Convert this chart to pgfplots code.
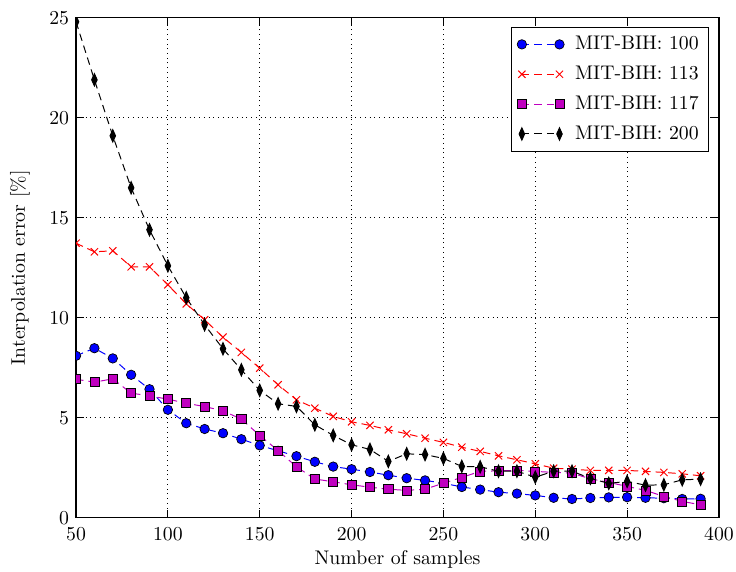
\documentclass[border=0pt]{standalone}
\usepackage{pgfplots}
\pgfplotsset{compat=1.18}
\definecolor{mplmag}{rgb}{0.75,0,0.75}
\begin{document}
\begin{tikzpicture}
\begin{axis}[
  name=ax,
  scale only axis,
  width=324.7bp, height=252.5bp,
  xmin=50, xmax=400, ymin=0, ymax=25,
  xtick={50,100,...,400}, ytick={0,5,...,25},
  xlabel={Number of samples},
  ylabel={Interpolation error [\%]},
  grid=major,
  clip marker paths=true,
  major grid style={dotted, black, line width=0.45pt},
  axis line style={line width=0.55pt},
  major tick length=4bp,
  tick style={black, line width=0.55pt},
  xticklabel style={inner xsep=1bp, yshift=-1.5bp},
  xlabel style={at={(axis description cs:0.5,0)}, anchor=base, yshift=-23.7bp, inner sep=1bp},
  ylabel style={at={(axis description cs:0,0.5)}, anchor=center, yshift=28.3bp},
  legend style={at={(1,1)}, xshift=-5bp, yshift=-4.5bp, anchor=north east, draw=black, line width=0.55pt,
    inner xsep=3bp, inner ysep=2.5bp, row sep=2.8bp, font=\normalsize,
    /tikz/every odd column/.append style={column sep=3.5bp}},
  legend cell align=left,
  legend image code/.code={\draw[#1] plot coordinates {(0bp,0bp) (19bp,0bp)};},
  every axis plot/.append style={line width=0.5pt, dash pattern=on 3.8bp off 2.5bp},
]
\addplot[blue, mark=*, mark size=2.4pt, mark options={solid, fill=blue, draw=black, line width=0.35pt}] coordinates {
(50,8.1) (60,8.48) (70,7.97) (80,7.15) (90,6.43) (100,5.4) (110,4.73) (120,4.44) (130,4.23) (140,3.93)
(150,3.62) (160,3.35) (170,3.08) (180,2.8) (190,2.56) (200,2.43) (210,2.29) (220,2.13) (230,1.98) (240,1.87)
(250,1.73) (260,1.54) (270,1.41) (280,1.28) (290,1.21) (300,1.12) (310,1.0) (320,0.94) (330,0.99) (340,1.02)
(350,1.03) (360,1.0) (370,0.98) (380,0.94) (390,0.95)};
\addlegendentry{MIT-BIH: 100}
\addplot[red, mark=x, mark size=2.6pt, mark options={solid, line width=0.5pt}] coordinates {
(50,13.73) (60,13.3) (70,13.35) (80,12.55) (90,12.55) (100,11.65) (110,10.7) (120,9.9) (130,9.03) (140,8.27)
(150,7.48) (160,6.65) (170,5.9) (180,5.48) (190,5.07) (200,4.8) (210,4.62) (220,4.4) (230,4.2) (240,3.98)
(250,3.77) (260,3.53) (270,3.32) (280,3.1) (290,2.9) (300,2.7) (310,2.48) (320,2.43) (330,2.37) (340,2.37)
(350,2.37) (360,2.32) (370,2.27) (380,2.2) (390,2.1)};
\addlegendentry{MIT-BIH: 113}
\addplot[mplmag, mark=square*, mark size=2.3pt, mark options={solid, fill=mplmag, draw=black, line width=0.35pt}] coordinates {
(50,6.93) (60,6.78) (70,6.95) (80,6.23) (90,6.1) (100,5.93) (110,5.73) (120,5.56) (130,5.35) (140,4.93)
(150,4.12) (160,3.36) (170,2.55) (180,1.94) (190,1.8) (200,1.65) (210,1.53) (220,1.43) (230,1.37) (240,1.43)
(250,1.73) (260,2.02) (270,2.32) (280,2.35) (290,2.37) (300,2.32) (310,2.27) (320,2.23) (330,1.95) (340,1.77)
(350,1.57) (360,1.37) (370,1.07) (380,0.82) (390,0.65)};
\addlegendentry{MIT-BIH: 117}
\addplot[black, mark=diamond*, mark size=3.1pt, mark options={solid, fill=black, xscale=0.6}] coordinates {
(50,24.8) (60,21.9) (70,19.1) (80,16.5) (90,14.4) (100,12.6) (110,11.0) (120,9.65) (130,8.45) (140,7.4)
(150,6.37) (160,5.7) (170,5.57) (180,4.65) (190,4.12) (200,3.65) (210,3.42) (220,2.82) (230,3.2) (240,3.16)
(250,2.97) (260,2.57) (270,2.55) (280,2.33) (290,2.33) (300,2.03) (310,2.33) (320,2.33) (330,1.97) (340,1.72)
(350,1.82) (360,1.63) (370,1.65) (380,1.9) (390,1.93)};
\addlegendentry{MIT-BIH: 200}
\end{axis}
\path (ax.south west) ++(-38.4bp,-27bp) (ax.north east) ++(8.6bp,9bp);
\end{tikzpicture}
\end{document}
